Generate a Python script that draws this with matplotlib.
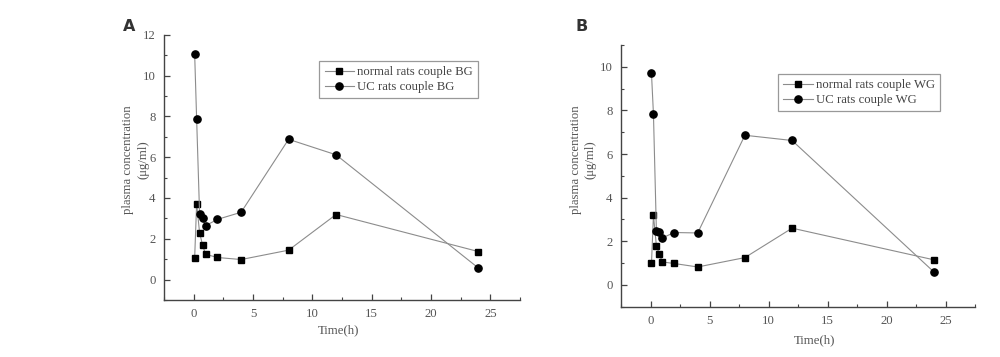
import matplotlib
matplotlib.use('Agg')
import matplotlib.pyplot as plt
from matplotlib.ticker import MultipleLocator

# sampling times (h)
time_h = [0.083, 0.25, 0.5, 0.75, 1, 2, 4, 8, 12, 24]

# panel A - BG
normal_bg = [1.05, 3.72, 2.29, 1.69, 1.24, 1.08, 0.98, 1.44, 3.19, 1.37]
uc_bg = [11.08, 7.88, 3.21, 3.02, 2.64, 2.95, 3.30, 6.88, 6.12, 0.56]

# panel B - WG
normal_wg = [0.98, 3.20, 1.78, 1.42, 1.05, 0.98, 0.82, 1.25, 2.60, 1.15]
uc_wg = [9.70, 7.83, 2.47, 2.42, 2.15, 2.40, 2.38, 6.86, 6.62, 0.60]

serif = 'Liberation Serif'
fs = 9.2
txt_col = '#555555'
line_col = '#8c8c8c'
spine_col = '#444444'

fig = plt.figure(figsize=(10, 3.57), dpi=100)
axA = fig.add_axes([0.164, 0.160, 0.356, 0.742])
axB = fig.add_axes([0.621, 0.141, 0.354, 0.733])


def style_axis(ax, ylim, ymaj):
    ax.set_xlim(-2.5, 27.5)
    ax.set_ylim(*ylim)
    ax.xaxis.set_major_locator(MultipleLocator(5))
    ax.xaxis.set_minor_locator(MultipleLocator(2.5))
    ax.yaxis.set_major_locator(MultipleLocator(ymaj))
    ax.yaxis.set_minor_locator(MultipleLocator(ymaj / 2))
    for s in ['top', 'right']:
        ax.spines[s].set_visible(False)
    for s in ['left', 'bottom']:
        ax.spines[s].set_color(spine_col)
        ax.spines[s].set_linewidth(1.0)
    ax.tick_params(which='both', direction='in', colors=spine_col,
                   labelcolor=txt_col, labelsize=fs, pad=6)
    ax.tick_params(which='major', length=4, width=0.9)
    ax.tick_params(which='minor', length=2.5, width=0.8)
    for lab in ax.get_xticklabels() + ax.get_yticklabels():
        lab.set_fontfamily(serif)


def draw(ax, normal, uc, tag):
    ax.plot(time_h, normal, '-s', color=line_col, lw=0.8, ms=4.5,
            mfc='black', mec='black', label='normal rats couple ' + tag)
    ax.plot(time_h, uc, '-o', color=line_col, lw=0.8, ms=5.2,
            mfc='black', mec='black', label='UC rats couple ' + tag)


draw(axA, normal_bg, uc_bg, 'BG')
draw(axB, normal_wg, uc_wg, 'WG')
style_axis(axA, (-1, 12), 2)
style_axis(axB, (-1, 11), 2)

for ax, anchor in [(axA, (0.882, 0.902)), (axB, (0.901, 0.889))]:
    leg = ax.legend(loc='upper right', bbox_to_anchor=anchor, fancybox=False,
                    framealpha=1, edgecolor='#999999', handlelength=2.3,
                    handletextpad=0.25, borderpad=0.4, labelspacing=0.25,
                    borderaxespad=0, prop={'family': serif, 'size': fs})
    for t in leg.get_texts():
        t.set_color('#444444')
    leg.get_frame().set_linewidth(0.9)

ylab = 'plasma concentration\n(\u03bcg/ml)'
axA.set_ylabel(ylab, family=serif, fontsize=fs, color=txt_col, linespacing=1.3)
axB.set_ylabel(ylab, family=serif, fontsize=fs, color=txt_col, linespacing=1.3)
axA.yaxis.set_label_coords(-0.042, 0.53)
axB.yaxis.set_label_coords(-0.068, 0.56)

axA.set_xlabel('Time(h)', family=serif, fontsize=fs, color=txt_col)
axB.set_xlabel('Time(h)', family=serif, fontsize=fs, color=txt_col)
axA.xaxis.set_label_coords(0.49, -0.094)
axB.xaxis.set_label_coords(0.548, -0.104)

fig.text(0.129, 0.927, 'A', family='DejaVu Sans', fontweight='bold',
         fontsize=11.5, color='#333333', ha='center', va='center')
fig.text(0.582, 0.927, 'B', family='DejaVu Sans', fontweight='bold',
         fontsize=11.5, color='#333333', ha='center', va='center')

fig.savefig('out.png', dpi=100)
